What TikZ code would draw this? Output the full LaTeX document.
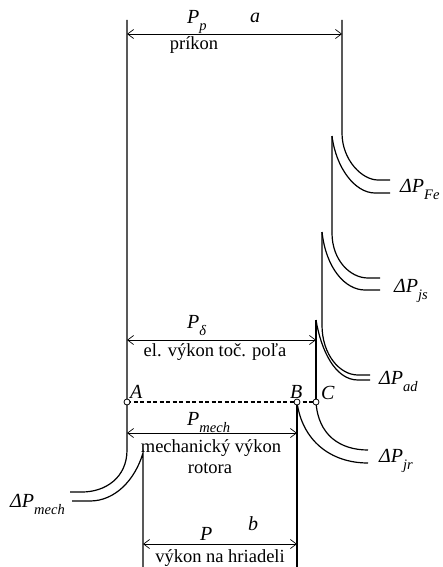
\documentclass[tikz,border=0pt]{standalone}
\usepackage{fontspec}
\setmainfont{Liberation Serif}
\usetikzlibrary{arrows.meta}
\newcommand{\lb}[2]{{\fontsize{20}{20}\selectfont\textit{#1}\raisebox{-7pt}{\fontsize{14.5}{14.5}\selectfont\textit{#2}}}}
\begin{document}
\begin{tikzpicture}[x=1pt,y=-1pt,
  ln/.style={line width=1.2pt},
  dim/.style={line width=0.7pt, {Straight Barb[length=6pt,width=9pt]}-{Straight Barb[length=6pt,width=9pt]}},
  txt/.style={font=\fontsize{18.5}{20}\selectfont, inner sep=0pt, anchor=base},
  lbl/.style={inner sep=0pt, anchor=base west},
  dot/.style={circle, draw, fill=white, line width=0.8pt, inner sep=0pt, minimum size=6pt}]
\useasboundingbox (0,0) rectangle (442,567);
% key points
\coordinate (cA) at (127,402);
\coordinate (cB) at (297,402);
\coordinate (cC) at (316,402);
\coordinate (Ltop) at (127,20);
\coordinate (Rtop) at (342,20);
\coordinate (Pk2) at (332,136);
\coordinate (Pk3) at (322,232);
\coordinate (Pk4) at (316,320);
\coordinate (Pin) at (143,453);
\coordinate (Bbot) at (297,567);
\coordinate (Pbot) at (143,567);
% main outline
\draw[ln] (Ltop) -- (127,450) .. controls (127,478) and (105,492) .. (82,492) -- (70,492);
\draw[ln] (Pbot) -- (Pin) .. controls (135,480) and (115,501) .. (90,501) -- (72,501);
\draw[ln] (Rtop) -- (342,133) .. controls (342,160) and (362,180) .. (378,180) -- (390,180);
\draw[ln] (Pk2) .. controls (336,168) and (355,193) .. (375,193) -- (390,193);
\draw[ln] (Pk2) -- (332,233) .. controls (332,260) and (350,278) .. (368,278) -- (380,278);
\draw[ln] (Pk3) .. controls (326,268) and (345,290) .. (365,290) -- (380,290);
\draw[ln] (Pk3) -- (322,325) .. controls (322,355) and (340,375) .. (358,375) -- (370,375);
\draw[ln] (Pk4) .. controls (321,350) and (335,380) .. (358,380) -- (370,380);
\draw[ln] (Pk4) -- (cC);
\draw[ln] (cC) .. controls (318,435) and (340,450) .. (368,450);
\draw[ln] (cB) .. controls (302,440) and (330,463) .. (368,463);
\draw[ln] (cB) -- (Bbot);
\draw[ln, dash pattern=on 4pt off 2.5pt] (cA) -- (cC);
% dimension arrows
\coordinate (d1a) at (127,34); \coordinate (d1b) at (342,34);
\coordinate (d2a) at (127,340); \coordinate (d2b) at (316,340);
\coordinate (d3a) at (127,433); \coordinate (d3b) at (297,433);
\coordinate (d4a) at (143,544); \coordinate (d4b) at (297,544);
\draw[dim] (d1a) -- (d1b);
\draw[dim] (d2a) -- (d2b);
\draw[dim] (d3a) -- (d3b);
\draw[dim] (d4a) -- (d4b);
% points
\node[dot] (A) at (cA) {};
\node[dot] (B) at (cB) {};
\node[dot] (C) at (cC) {};
% labels
\node[lbl] (lPp) at (187,24) {\lb{P}{p}};
\node[lbl] (la) at (250,23) {\fontsize{20}{20}\selectfont\textit{a}};
\node[txt] (tprikon) at (194,50) {príkon};
\node[lbl] (lPd) at (187,328) {\lb{P}{δ}};
\node[txt] (tel) at (215,356) {el. výkon toč. poľa};
\node[lbl] (lA) at (130,398) {\fontsize{20}{20}\selectfont\textit{A}};
\node[lbl] (lB) at (290,398) {\fontsize{20}{20}\selectfont\textit{B}};
\node[lbl] (lC) at (321,399) {\fontsize{20}{20}\selectfont\textit{C}};
\node[lbl] (lPm) at (187,425) {\lb{P}{mech}};
\node[txt] (tmech) at (211,452) {mechanický výkon};
\node[txt] (trot) at (210,473) {rotora};
\node[lbl] (lDm) at (10,507) {\lb{ΔP}{mech}};
\node[lbl] (lP) at (200,540) {\fontsize{20}{20}\selectfont\textit{P}};
\node[lbl] (lb) at (248,530) {\fontsize{20}{20}\selectfont\textit{b}};
\node[txt] (thr) at (220,562) {výkon na hriadeli};
\node[lbl] (lFe) at (400,192) {\lb{ΔP}{Fe}};
\node[lbl] (ljs) at (394,292) {\lb{ΔP}{js}};
\node[lbl] (lad) at (379,384) {\lb{ΔP}{ad}};
\node[lbl] (ljr) at (379,462) {\lb{ΔP}{jr}};
\end{tikzpicture}
\end{document}
